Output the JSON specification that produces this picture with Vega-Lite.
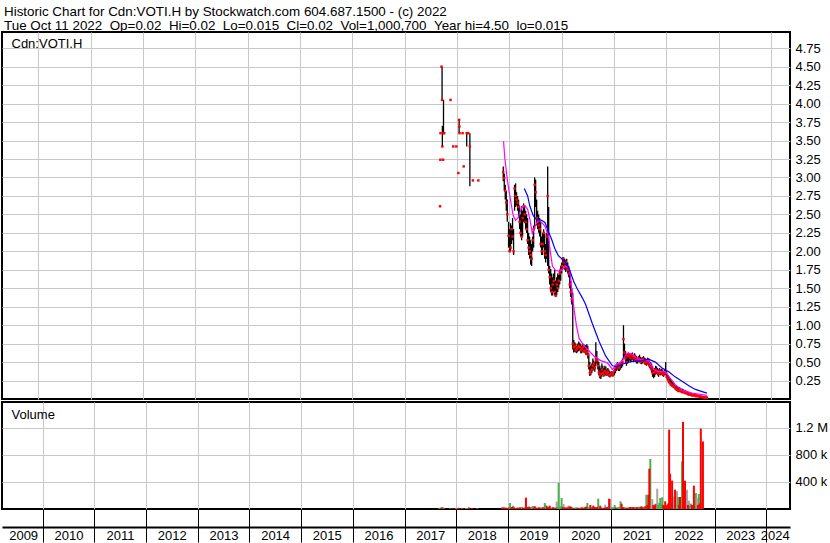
{
  "$schema": "https://vega.github.io/schema/vega-lite/v6.json",
  "background": "white",
  "padding": {"left": 1, "top": 4, "right": 0, "bottom": 0},
  "spacing": 3,
  "bounds": "flush",
  "title": {
    "text": ["Historic Chart for Cdn:VOTI.H by Stockwatch.com 604.687.1500 - (c) 2022", "Tue Oct 11 2022 \u00a0Op=0.02 \u00a0Hi=0.02 \u00a0Lo=0.015 \u00a0Cl=0.02 \u00a0Vol=1,000,700 \u00a0Year hi=4.50 \u00a0lo=0.015"],
    "anchor": "start", "frame": "group", "font": "Liberation Sans", "fontSize": 13.4, "fontWeight": "normal",
    "color": "black", "lineHeight": 14, "dx": 2, "offset": -1
  },
  "config": {
    "view": {"stroke": "black", "strokeWidth": 2},
    "font": "Liberation Sans",
    "axis": {"labelFont": "Liberation Sans", "labelFontSize": 13, "labelColor": "black", "gridColor": "#c8c8c8", "gridWidth": 1, "gridOpacity": 1, "title": null}
  },
  "datasets": {
    "px": [
      {"d":"2017-09-05","h":2.61,"l":2.61,"c":2.61,"v":12000,"k":"up"},
      {"d":"2017-09-07","h":3.24,"l":3.24,"c":3.24,"v":18000,"k":"up"},
      {"d":"2017-09-08","h":3.6,"l":3.6,"c":3.6,"v":15000,"k":"up"},
      {"d":"2017-09-15","h":4.5,"l":4.5,"c":4.5,"v":10000,"k":"up"},
      {"d":"2017-09-19","h":4.5,"l":4.05,"c":4.05,"v":22000,"k":"down"},
      {"d":"2017-09-21","h":3.7,"l":3.42,"c":3.42,"v":20000,"k":"down"},
      {"d":"2017-09-26","h":3.24,"l":3.24,"c":3.24,"v":15000,"k":"down"},
      {"d":"2017-09-29","h":4.05,"l":3.6,"c":3.6,"v":25000,"k":"up"},
      {"d":"2017-10-04","h":3.6,"l":3.6,"c":3.6,"v":12000,"k":"flat"},
      {"d":"2017-11-17","h":4.05,"l":4.05,"c":4.05,"v":10000,"k":"up"},
      {"d":"2017-12-06","h":3.42,"l":3.42,"c":3.42,"v":12000,"k":"down"},
      {"d":"2017-12-27","h":3.42,"l":3.42,"c":3.42,"v":10000,"k":"flat"},
      {"d":"2018-01-11","h":3.06,"l":3.06,"c":3.06,"v":14000,"k":"down"},
      {"d":"2018-01-16","h":3.78,"l":3.6,"c":3.78,"v":20000,"k":"up"},
      {"d":"2018-01-18","h":3.69,"l":3.69,"c":3.69,"v":12000,"k":"down"},
      {"d":"2018-01-19","h":3.6,"l":3.6,"c":3.6,"v":10000,"k":"down"},
      {"d":"2018-02-09","h":3.6,"l":3.6,"c":3.6,"v":10000,"k":"flat"},
      {"d":"2018-02-17","h":3.15,"l":3.15,"c":3.15,"v":12000,"k":"down"},
      {"d":"2018-03-10","h":3.6,"l":3.42,"c":3.6,"v":15000,"k":"up"},
      {"d":"2018-03-20","h":3.6,"l":3.6,"c":3.6,"v":10000,"k":"flat"},
      {"d":"2018-04-01","h":3.6,"l":2.88,"c":3.42,"v":22000,"k":"down"},
      {"d":"2018-04-22","h":2.96,"l":2.96,"c":2.96,"v":12000,"k":"down"},
      {"d":"2018-05-30","h":2.96,"l":2.96,"c":2.96,"v":10000,"k":"flat"},
      {"d":"2018-11-20","h":3.15,"l":2.95,"c":3.07,"v":22000,"k":"down"},
      {"d":"2018-11-27","h":3.05,"l":2.82,"c":2.99,"v":18000,"k":"down"},
      {"d":"2018-12-04","h":2.9,"l":2.7,"c":2.82,"v":25000,"k":"down"},
      {"d":"2018-12-11","h":2.82,"l":2.55,"c":2.66,"v":15000,"k":"down"},
      {"d":"2018-12-18","h":2.7,"l":2.4,"c":2.5,"v":20000,"k":"down"},
      {"d":"2018-12-27","h":2.4,"l":2.05,"c":2.21,"v":15000,"k":"down"},
      {"d":"2019-01-03","h":2.3,"l":2.0,"c":2.0,"v":18000,"k":"down"},
      {"d":"2019-01-10","h":2.38,"l":2.0,"c":2.05,"v":25000,"k":"up"},
      {"d":"2019-01-17","h":2.35,"l":2.1,"c":2.3,"v":89000,"k":"up"},
      {"d":"2019-01-24","h":2.45,"l":2.15,"c":2.2,"v":20000,"k":"down"},
      {"d":"2019-01-31","h":2.3,"l":1.95,"c":2.0,"v":30000,"k":"down"},
      {"d":"2019-02-07","h":2.9,"l":2.55,"c":2.85,"v":49000,"k":"up"},
      {"d":"2019-02-14","h":2.92,"l":2.6,"c":2.75,"v":25000,"k":"down"},
      {"d":"2019-02-21","h":2.8,"l":2.62,"c":2.7,"v":15000,"k":"flat"},
      {"d":"2019-02-28","h":2.75,"l":2.55,"c":2.66,"v":12000,"k":"down"},
      {"d":"2019-03-07","h":2.7,"l":2.45,"c":2.6,"v":18000,"k":"down"},
      {"d":"2019-03-14","h":2.62,"l":2.3,"c":2.4,"v":20000,"k":"down"},
      {"d":"2019-03-21","h":2.5,"l":2.2,"c":2.25,"v":15000,"k":"down"},
      {"d":"2019-03-28","h":2.61,"l":2.15,"c":2.2,"v":25000,"k":"down"},
      {"d":"2019-04-04","h":2.55,"l":2.2,"c":2.45,"v":20000,"k":"up"},
      {"d":"2019-04-11","h":2.65,"l":2.4,"c":2.61,"v":30000,"k":"up"},
      {"d":"2019-04-18","h":2.62,"l":2.38,"c":2.5,"v":15000,"k":"down"},
      {"d":"2019-04-25","h":2.55,"l":2.3,"c":2.4,"v":20000,"k":"down"},
      {"d":"2019-05-02","h":2.5,"l":2.25,"c":2.3,"v":18000,"k":"down"},
      {"d":"2019-05-09","h":2.45,"l":2.1,"c":2.15,"v":168000,"k":"down"},
      {"d":"2019-05-16","h":2.25,"l":1.95,"c":2.05,"v":30000,"k":"down"},
      {"d":"2019-05-23","h":2.2,"l":1.9,"c":2.0,"v":25000,"k":"down"},
      {"d":"2019-05-30","h":2.15,"l":1.82,"c":1.95,"v":35000,"k":"down"},
      {"d":"2019-06-06","h":2.1,"l":1.8,"c":1.9,"v":20000,"k":"down"},
      {"d":"2019-06-13","h":2.2,"l":2.0,"c":2.15,"v":25000,"k":"up"},
      {"d":"2019-06-20","h":2.35,"l":2.05,"c":2.3,"v":30000,"k":"up"},
      {"d":"2019-06-27","h":3.0,"l":2.3,"c":2.9,"v":45000,"k":"up"},
      {"d":"2019-07-04","h":2.97,"l":2.6,"c":2.8,"v":20000,"k":"down"},
      {"d":"2019-07-11","h":2.7,"l":2.35,"c":2.45,"v":40000,"k":"down"},
      {"d":"2019-07-18","h":2.55,"l":2.3,"c":2.4,"v":15000,"k":"down"},
      {"d":"2019-07-25","h":2.5,"l":2.25,"c":2.35,"v":20000,"k":"down"},
      {"d":"2019-08-01","h":2.45,"l":2.2,"c":2.3,"v":15000,"k":"flat"},
      {"d":"2019-08-08","h":2.4,"l":2.05,"c":2.1,"v":25000,"k":"down"},
      {"d":"2019-08-15","h":2.2,"l":1.95,"c":2.0,"v":20000,"k":"down"},
      {"d":"2019-08-22","h":2.25,"l":1.95,"c":2.1,"v":18000,"k":"up"},
      {"d":"2019-08-29","h":2.3,"l":2.05,"c":2.25,"v":22000,"k":"up"},
      {"d":"2019-09-05","h":2.25,"l":1.9,"c":2.0,"v":25000,"k":"down"},
      {"d":"2019-09-12","h":2.1,"l":1.85,"c":1.95,"v":20000,"k":"down"},
      {"d":"2019-09-19","h":2.25,"l":1.9,"c":2.2,"v":89000,"k":"up"},
      {"d":"2019-09-26","h":3.15,"l":1.8,"c":2.75,"v":60000,"k":"up"},
      {"d":"2019-10-03","h":2.6,"l":1.7,"c":1.75,"v":40000,"k":"down"},
      {"d":"2019-10-10","h":1.8,"l":1.55,"c":1.65,"v":25000,"k":"down"},
      {"d":"2019-10-17","h":1.76,"l":1.45,"c":1.5,"v":30000,"k":"down"},
      {"d":"2019-10-24","h":1.7,"l":1.4,"c":1.45,"v":49000,"k":"down"},
      {"d":"2019-10-31","h":1.65,"l":1.4,"c":1.55,"v":20000,"k":"up"},
      {"d":"2019-11-07","h":1.7,"l":1.45,"c":1.6,"v":18000,"k":"up"},
      {"d":"2019-11-14","h":1.75,"l":1.4,"c":1.45,"v":25000,"k":"down"},
      {"d":"2019-11-21","h":1.6,"l":1.38,"c":1.4,"v":22000,"k":"down"},
      {"d":"2019-11-28","h":1.65,"l":1.4,"c":1.55,"v":15000,"k":"up"},
      {"d":"2019-12-05","h":1.7,"l":1.45,"c":1.5,"v":20000,"k":"down"},
      {"d":"2019-12-12","h":1.68,"l":1.5,"c":1.6,"v":109000,"k":"flat"},
      {"d":"2019-12-19","h":1.75,"l":1.55,"c":1.7,"v":30000,"k":"up"},
      {"d":"2019-12-26","h":1.8,"l":1.6,"c":1.75,"v":390000,"k":"up"},
      {"d":"2020-01-02","h":1.85,"l":1.7,"c":1.8,"v":35000,"k":"up"},
      {"d":"2020-01-09","h":1.92,"l":1.75,"c":1.9,"v":40000,"k":"up"},
      {"d":"2020-01-16","h":1.92,"l":1.8,"c":1.85,"v":163000,"k":"up"},
      {"d":"2020-01-23","h":1.9,"l":1.75,"c":1.8,"v":30000,"k":"down"},
      {"d":"2020-01-30","h":1.88,"l":1.72,"c":1.85,"v":74000,"k":"flat"},
      {"d":"2020-02-06","h":1.9,"l":1.75,"c":1.78,"v":25000,"k":"down"},
      {"d":"2020-02-13","h":1.85,"l":1.7,"c":1.75,"v":20000,"k":"down"},
      {"d":"2020-02-20","h":1.8,"l":1.65,"c":1.7,"v":18000,"k":"down"},
      {"d":"2020-02-27","h":1.75,"l":1.5,"c":1.55,"v":25000,"k":"down"},
      {"d":"2020-03-05","h":1.6,"l":1.38,"c":1.45,"v":49000,"k":"up"},
      {"d":"2020-03-12","h":1.5,"l":1.28,"c":1.35,"v":30000,"k":"down"},
      {"d":"2020-03-19","h":1.44,"l":0.67,"c":0.75,"v":40000,"k":"down"},
      {"d":"2020-03-26","h":0.8,"l":0.63,"c":0.7,"v":25000,"k":"down"},
      {"d":"2020-04-02","h":0.77,"l":0.64,"c":0.72,"v":20000,"k":"up"},
      {"d":"2020-04-09","h":0.75,"l":0.63,"c":0.66,"v":15000,"k":"down"},
      {"d":"2020-04-16","h":0.72,"l":0.62,"c":0.68,"v":18000,"k":"up"},
      {"d":"2020-04-23","h":0.75,"l":0.64,"c":0.7,"v":20000,"k":"up"},
      {"d":"2020-04-30","h":0.78,"l":0.65,"c":0.72,"v":25000,"k":"up"},
      {"d":"2020-05-07","h":0.76,"l":0.66,"c":0.7,"v":15000,"k":"down"},
      {"d":"2020-05-14","h":0.74,"l":0.62,"c":0.66,"v":20000,"k":"down"},
      {"d":"2020-05-21","h":0.72,"l":0.62,"c":0.68,"v":15000,"k":"up"},
      {"d":"2020-05-28","h":0.75,"l":0.64,"c":0.7,"v":18000,"k":"up"},
      {"d":"2020-06-04","h":0.74,"l":0.63,"c":0.65,"v":20000,"k":"down"},
      {"d":"2020-06-11","h":0.72,"l":0.62,"c":0.64,"v":25000,"k":"down"},
      {"d":"2020-06-18","h":0.73,"l":0.6,"c":0.66,"v":15000,"k":"up"},
      {"d":"2020-06-25","h":0.74,"l":0.6,"c":0.63,"v":20000,"k":"down"},
      {"d":"2020-07-02","h":0.72,"l":0.55,"c":0.6,"v":30000,"k":"down"},
      {"d":"2020-07-09","h":0.62,"l":0.4,"c":0.45,"v":35000,"k":"down"},
      {"d":"2020-07-16","h":0.5,"l":0.31,"c":0.35,"v":89000,"k":"up"},
      {"d":"2020-07-23","h":0.45,"l":0.32,"c":0.38,"v":25000,"k":"up"},
      {"d":"2020-07-30","h":0.48,"l":0.35,"c":0.4,"v":20000,"k":"up"},
      {"d":"2020-08-06","h":0.55,"l":0.38,"c":0.45,"v":59000,"k":"down"},
      {"d":"2020-08-13","h":0.52,"l":0.4,"c":0.48,"v":20000,"k":"up"},
      {"d":"2020-08-20","h":0.5,"l":0.37,"c":0.42,"v":25000,"k":"down"},
      {"d":"2020-08-27","h":0.77,"l":0.45,"c":0.55,"v":49000,"k":"down"},
      {"d":"2020-09-03","h":0.65,"l":0.48,"c":0.52,"v":30000,"k":"down"},
      {"d":"2020-09-10","h":0.55,"l":0.4,"c":0.45,"v":25000,"k":"down"},
      {"d":"2020-09-17","h":0.5,"l":0.32,"c":0.36,"v":20000,"k":"down"},
      {"d":"2020-09-24","h":0.45,"l":0.28,"c":0.32,"v":30000,"k":"down"},
      {"d":"2020-10-01","h":0.42,"l":0.27,"c":0.34,"v":153000,"k":"up"},
      {"d":"2020-10-08","h":0.48,"l":0.3,"c":0.4,"v":25000,"k":"up"},
      {"d":"2020-10-15","h":0.45,"l":0.32,"c":0.35,"v":49000,"k":"down"},
      {"d":"2020-10-22","h":0.42,"l":0.3,"c":0.33,"v":20000,"k":"down"},
      {"d":"2020-10-29","h":0.45,"l":0.31,"c":0.38,"v":18000,"k":"up"},
      {"d":"2020-11-05","h":0.44,"l":0.33,"c":0.36,"v":15000,"k":"down"},
      {"d":"2020-11-12","h":0.4,"l":0.31,"c":0.34,"v":20000,"k":"down"},
      {"d":"2020-11-19","h":0.42,"l":0.32,"c":0.37,"v":64000,"k":"flat"},
      {"d":"2020-11-26","h":0.4,"l":0.3,"c":0.33,"v":25000,"k":"down"},
      {"d":"2020-12-03","h":0.38,"l":0.29,"c":0.32,"v":30000,"k":"down"},
      {"d":"2020-12-10","h":0.36,"l":0.3,"c":0.34,"v":20000,"k":"up"},
      {"d":"2020-12-17","h":0.38,"l":0.31,"c":0.35,"v":153000,"k":"down"},
      {"d":"2020-12-24","h":0.37,"l":0.3,"c":0.33,"v":148000,"k":"flat"},
      {"d":"2021-01-04","h":0.4,"l":0.32,"c":0.38,"v":30000,"k":"up"},
      {"d":"2021-01-11","h":0.45,"l":0.35,"c":0.42,"v":25000,"k":"up"},
      {"d":"2021-01-18","h":0.48,"l":0.38,"c":0.45,"v":20000,"k":"up"},
      {"d":"2021-01-25","h":0.5,"l":0.4,"c":0.46,"v":59000,"k":"up"},
      {"d":"2021-02-01","h":0.47,"l":0.38,"c":0.42,"v":20000,"k":"down"},
      {"d":"2021-02-08","h":0.46,"l":0.38,"c":0.43,"v":18000,"k":"up"},
      {"d":"2021-02-15","h":0.5,"l":0.4,"c":0.47,"v":25000,"k":"up"},
      {"d":"2021-02-22","h":0.52,"l":0.42,"c":0.48,"v":30000,"k":"up"},
      {"d":"2021-03-01","h":0.55,"l":0.44,"c":0.5,"v":35000,"k":"up"},
      {"d":"2021-03-08","h":1.0,"l":0.54,"c":0.81,"v":114000,"k":"up"},
      {"d":"2021-03-15","h":0.75,"l":0.55,"c":0.63,"v":79000,"k":"down"},
      {"d":"2021-03-22","h":0.65,"l":0.48,"c":0.55,"v":30000,"k":"down"},
      {"d":"2021-03-29","h":0.6,"l":0.45,"c":0.5,"v":25000,"k":"down"},
      {"d":"2021-04-05","h":0.62,"l":0.48,"c":0.58,"v":20000,"k":"up"},
      {"d":"2021-04-12","h":0.63,"l":0.5,"c":0.6,"v":25000,"k":"up"},
      {"d":"2021-04-19","h":0.62,"l":0.52,"c":0.58,"v":15000,"k":"down"},
      {"d":"2021-04-26","h":0.6,"l":0.5,"c":0.55,"v":20000,"k":"down"},
      {"d":"2021-05-03","h":0.62,"l":0.52,"c":0.6,"v":18000,"k":"up"},
      {"d":"2021-05-10","h":0.63,"l":0.53,"c":0.58,"v":25000,"k":"down"},
      {"d":"2021-05-17","h":0.6,"l":0.5,"c":0.55,"v":30000,"k":"down"},
      {"d":"2021-05-24","h":0.62,"l":0.52,"c":0.58,"v":20000,"k":"up"},
      {"d":"2021-05-31","h":0.6,"l":0.5,"c":0.53,"v":25000,"k":"down"},
      {"d":"2021-06-07","h":0.58,"l":0.48,"c":0.52,"v":30000,"k":"down"},
      {"d":"2021-06-14","h":0.56,"l":0.48,"c":0.53,"v":20000,"k":"up"},
      {"d":"2021-06-21","h":0.58,"l":0.5,"c":0.55,"v":25000,"k":"up"},
      {"d":"2021-06-28","h":0.6,"l":0.5,"c":0.52,"v":30000,"k":"down"},
      {"d":"2021-07-05","h":0.57,"l":0.48,"c":0.5,"v":20000,"k":"down"},
      {"d":"2021-07-12","h":0.55,"l":0.47,"c":0.52,"v":35000,"k":"up"},
      {"d":"2021-07-19","h":0.57,"l":0.48,"c":0.55,"v":25000,"k":"up"},
      {"d":"2021-07-26","h":0.58,"l":0.5,"c":0.53,"v":30000,"k":"down"},
      {"d":"2021-08-02","h":0.56,"l":0.47,"c":0.5,"v":40000,"k":"down"},
      {"d":"2021-08-09","h":0.55,"l":0.46,"c":0.48,"v":25000,"k":"down"},
      {"d":"2021-08-16","h":0.54,"l":0.45,"c":0.5,"v":30000,"k":"up"},
      {"d":"2021-08-23","h":0.56,"l":0.47,"c":0.52,"v":35000,"k":"up"},
      {"d":"2021-08-30","h":0.55,"l":0.45,"c":0.48,"v":40000,"k":"down"},
      {"d":"2021-09-06","h":0.52,"l":0.42,"c":0.45,"v":212000,"k":"up"},
      {"d":"2021-09-13","h":0.5,"l":0.4,"c":0.43,"v":60000,"k":"down"},
      {"d":"2021-09-20","h":0.48,"l":0.36,"c":0.4,"v":212000,"k":"down"},
      {"d":"2021-09-27","h":0.45,"l":0.3,"c":0.35,"v":597000,"k":"down"},
      {"d":"2021-10-04","h":0.4,"l":0.28,"c":0.36,"v":741000,"k":"up"},
      {"d":"2021-10-11","h":0.42,"l":0.3,"c":0.36,"v":50000,"k":"flat"},
      {"d":"2021-10-18","h":0.45,"l":0.33,"c":0.4,"v":148000,"k":"flat"},
      {"d":"2021-10-25","h":0.44,"l":0.34,"c":0.38,"v":60000,"k":"down"},
      {"d":"2021-11-01","h":0.42,"l":0.32,"c":0.35,"v":45000,"k":"down"},
      {"d":"2021-11-08","h":0.4,"l":0.3,"c":0.34,"v":70000,"k":"down"},
      {"d":"2021-11-15","h":0.42,"l":0.33,"c":0.38,"v":80000,"k":"up"},
      {"d":"2021-11-22","h":0.4,"l":0.32,"c":0.35,"v":301000,"k":"flat"},
      {"d":"2021-11-29","h":0.41,"l":0.33,"c":0.37,"v":60000,"k":"up"},
      {"d":"2021-12-06","h":0.4,"l":0.31,"c":0.34,"v":90000,"k":"up"},
      {"d":"2021-12-13","h":0.38,"l":0.3,"c":0.33,"v":163000,"k":"up"},
      {"d":"2021-12-20","h":0.4,"l":0.33,"c":0.36,"v":70000,"k":"up"},
      {"d":"2021-12-27","h":0.5,"l":0.32,"c":0.35,"v":173000,"k":"up"},
      {"d":"2022-01-03","h":0.38,"l":0.28,"c":0.3,"v":60000,"k":"down"},
      {"d":"2022-01-10","h":0.33,"l":0.25,"c":0.27,"v":50000,"k":"down"},
      {"d":"2022-01-17","h":0.31,"l":0.22,"c":0.24,"v":114000,"k":"down"},
      {"d":"2022-01-24","h":0.28,"l":0.2,"c":0.22,"v":40000,"k":"down"},
      {"d":"2022-01-31","h":0.27,"l":0.18,"c":0.2,"v":60000,"k":"down"},
      {"d":"2022-02-07","h":0.25,"l":0.17,"c":0.19,"v":80000,"k":"down"},
      {"d":"2022-02-14","h":0.24,"l":0.16,"c":0.18,"v":1175000,"k":"down"},
      {"d":"2022-02-21","h":0.22,"l":0.15,"c":0.17,"v":523000,"k":"down"},
      {"d":"2022-02-28","h":0.2,"l":0.14,"c":0.16,"v":100000,"k":"up"},
      {"d":"2022-03-07","h":0.19,"l":0.12,"c":0.14,"v":420000,"k":"down"},
      {"d":"2022-03-14","h":0.18,"l":0.11,"c":0.13,"v":60000,"k":"up"},
      {"d":"2022-03-21","h":0.17,"l":0.1,"c":0.12,"v":188000,"k":"flat"},
      {"d":"2022-03-28","h":0.16,"l":0.09,"c":0.11,"v":286000,"k":"down"},
      {"d":"2022-04-04","h":0.16,"l":0.1,"c":0.12,"v":80000,"k":"up"},
      {"d":"2022-04-11","h":0.15,"l":0.09,"c":0.11,"v":262000,"k":"flat"},
      {"d":"2022-04-18","h":0.14,"l":0.08,"c":0.1,"v":178000,"k":"up"},
      {"d":"2022-04-25","h":0.14,"l":0.08,"c":0.09,"v":60000,"k":"down"},
      {"d":"2022-05-02","h":0.13,"l":0.08,"c":0.1,"v":178000,"k":"down"},
      {"d":"2022-05-09","h":0.12,"l":0.07,"c":0.09,"v":90000,"k":"up"},
      {"d":"2022-05-16","h":0.12,"l":0.07,"c":0.08,"v":706000,"k":"up"},
      {"d":"2022-05-23","h":0.11,"l":0.06,"c":0.08,"v":1290000,"k":"down"},
      {"d":"2022-05-30","h":0.1,"l":0.06,"c":0.07,"v":346000,"k":"flat"},
      {"d":"2022-06-06","h":0.09,"l":0.05,"c":0.06,"v":420000,"k":"down"},
      {"d":"2022-06-13","h":0.09,"l":0.05,"c":0.07,"v":100000,"k":"up"},
      {"d":"2022-06-20","h":0.08,"l":0.05,"c":0.06,"v":286000,"k":"flat"},
      {"d":"2022-06-27","h":0.08,"l":0.04,"c":0.05,"v":60000,"k":"down"},
      {"d":"2022-07-04","h":0.07,"l":0.04,"c":0.05,"v":123000,"k":"flat"},
      {"d":"2022-07-11","h":0.07,"l":0.04,"c":0.05,"v":50000,"k":"up"},
      {"d":"2022-07-18","h":0.06,"l":0.04,"c":0.05,"v":79000,"k":"up"},
      {"d":"2022-07-25","h":0.06,"l":0.03,"c":0.04,"v":60000,"k":"down"},
      {"d":"2022-08-01","h":0.06,"l":0.03,"c":0.04,"v":40000,"k":"down"},
      {"d":"2022-08-08","h":0.05,"l":0.03,"c":0.04,"v":346000,"k":"down"},
      {"d":"2022-08-15","h":0.05,"l":0.03,"c":0.04,"v":80000,"k":"flat"},
      {"d":"2022-08-22","h":0.05,"l":0.025,"c":0.03,"v":237000,"k":"up"},
      {"d":"2022-08-29","h":0.04,"l":0.025,"c":0.03,"v":163000,"k":"flat"},
      {"d":"2022-09-05","h":0.04,"l":0.02,"c":0.03,"v":60000,"k":"down"},
      {"d":"2022-09-12","h":0.04,"l":0.02,"c":0.025,"v":222000,"k":"up"},
      {"d":"2022-09-19","h":0.035,"l":0.02,"c":0.025,"v":80000,"k":"down"},
      {"d":"2022-09-26","h":0.03,"l":0.015,"c":0.02,"v":1190000,"k":"down"},
      {"d":"2022-10-03","h":0.03,"l":0.015,"c":0.02,"v":100000,"k":"flat"},
      {"d":"2022-10-11","h":0.02,"l":0.015,"c":0.02,"v":1000700,"k":"down"}
    ],
    "ms": [
      {"d":"2018-11-22","m":3.49},{"d":"2018-12-02","m":3.24},{"d":"2018-12-21","m":2.93},
      {"d":"2019-01-05","m":2.75},{"d":"2019-01-17","m":2.61},{"d":"2019-01-29","m":2.48},
      {"d":"2019-02-14","m":2.42},{"d":"2019-03-05","m":2.46},{"d":"2019-03-28","m":2.59},
      {"d":"2019-04-20","m":2.62},{"d":"2019-05-09","m":2.57},{"d":"2019-05-25","m":2.43},
      {"d":"2019-06-11","m":2.24},{"d":"2019-06-29","m":2.34},{"d":"2019-07-23","m":2.42},
      {"d":"2019-08-15","m":2.39},{"d":"2019-09-07","m":2.34},{"d":"2019-10-01","m":2.21},
      {"d":"2019-10-12","m":2.03},{"d":"2019-10-29","m":1.8},{"d":"2019-11-21","m":1.74},
      {"d":"2019-12-21","m":1.73},{"d":"2020-01-29","m":1.8},{"d":"2020-02-22","m":1.78},
      {"d":"2020-03-04","m":1.65},{"d":"2020-03-16","m":1.4},{"d":"2020-03-28","m":1.22},
      {"d":"2020-04-13","m":1.0},{"d":"2020-05-02","m":0.82},{"d":"2020-06-06","m":0.72},
      {"d":"2020-07-11","m":0.65},{"d":"2020-08-15","m":0.58},{"d":"2020-09-30","m":0.52},
      {"d":"2020-11-16","m":0.49},{"d":"2020-12-21","m":0.4},{"d":"2021-01-21","m":0.47},
      {"d":"2021-02-25","m":0.51},{"d":"2021-04-01","m":0.62},{"d":"2021-05-06","m":0.61},
      {"d":"2021-06-10","m":0.55},{"d":"2021-07-15","m":0.53},{"d":"2021-08-31","m":0.52},
      {"d":"2021-10-05","m":0.4},{"d":"2021-11-09","m":0.37},{"d":"2021-12-25","m":0.37},
      {"d":"2022-01-29","m":0.28},{"d":"2022-03-05","m":0.19},{"d":"2022-04-21","m":0.12},
      {"d":"2022-06-30","m":0.08},{"d":"2022-10-11","m":0.05}
    ],
    "ml": [
      {"d":"2019-04-16","m":2.85},{"d":"2019-05-09","m":2.75},{"d":"2019-05-25","m":2.61},
      {"d":"2019-06-18","m":2.48},{"d":"2019-07-11","m":2.43},{"d":"2019-08-15","m":2.42},
      {"d":"2019-09-07","m":2.39},{"d":"2019-10-01","m":2.27},{"d":"2019-10-24","m":2.16},
      {"d":"2019-11-16","m":2.03},{"d":"2019-12-10","m":1.94},{"d":"2020-01-06","m":1.89},
      {"d":"2020-02-10","m":1.82},{"d":"2020-03-04","m":1.71},{"d":"2020-03-28","m":1.58},
      {"d":"2020-04-20","m":1.49},{"d":"2020-05-25","m":1.37},{"d":"2020-06-17","m":1.28},
      {"d":"2020-08-03","m":1.02},{"d":"2020-09-19","m":0.78},{"d":"2020-11-04","m":0.58},
      {"d":"2020-12-21","m":0.45},{"d":"2021-01-21","m":0.44},{"d":"2021-02-25","m":0.47},
      {"d":"2021-05-06","m":0.51},{"d":"2021-07-15","m":0.52},{"d":"2021-08-31","m":0.54},
      {"d":"2021-10-16","m":0.5},{"d":"2021-12-02","m":0.42},{"d":"2022-01-18","m":0.37},
      {"d":"2022-03-03","m":0.3},{"d":"2022-04-21","m":0.24},{"d":"2022-06-07","m":0.18},
      {"d":"2022-07-23","m":0.13},{"d":"2022-09-08","m":0.1},{"d":"2022-10-11","m":0.08}
    ]
  },
  "vconcat": [
    {
      "width": 788,
      "height": 367,
      "resolve": {"axis": {"y": "independent"}},
      "layer": [
        {
          "data": {"name": "px"},
          "mark": {"type": "rule", "color": "black", "strokeWidth": 1.3},
          "encoding": {
            "x": {"field": "d", "type": "temporal",
              "scale": {"domain": [{"year": 2009, "month": 4, "date": 23}, {"year": 2024, "month": 5, "date": 13}]},
              "axis": {"values": [{"year":2010,"month":1,"date":1},{"year":2011,"month":1,"date":1},{"year":2012,"month":1,"date":1},{"year":2013,"month":1,"date":1},{"year":2014,"month":1,"date":1},{"year":2015,"month":1,"date":1},{"year":2016,"month":1,"date":1},{"year":2017,"month":1,"date":1},{"year":2018,"month":1,"date":1},{"year":2019,"month":1,"date":1},{"year":2020,"month":1,"date":1},{"year":2021,"month":1,"date":1},{"year":2022,"month":1,"date":1},{"year":2023,"month":1,"date":1},{"year":2024,"month":1,"date":1}],
                "grid": true, "labels": false, "ticks": false, "domain": false, "title": null}},
            "y": {"field": "l", "type": "quantitative",
              "scale": {"domain": [0, 4.97], "nice": false, "zero": false},
              "axis": {"orient": "right", "values": [0.25,0.5,0.75,1,1.25,1.5,1.75,2,2.25,2.5,2.75,3,3.25,3.5,3.75,4,4.25,4.5,4.75],
                "format": ".2f", "grid": true, "ticks": false, "domain": false, "labelPadding": 5, "labelOverlap": false, "labelBaseline": "middle", "title": null}},
            "y2": {"field": "h"}
          }
        },
        {
          "data": {"name": "px"},
          "mark": {"type": "square", "color": "#ff0000", "size": 6, "opacity": 1},
          "encoding": {
            "x": {"field": "d", "type": "temporal"},
            "y": {"field": "c", "type": "quantitative",
              "axis": {"orient": "left", "title": "Cdn:VOTI.H", "labels": false, "ticks": false, "domain": false, "grid": false,
                "titleAngle": 0, "titleAlign": "left", "titleBaseline": "alphabetic", "titleX": 9, "titleY": 15,
                "titleFont": "Liberation Sans", "titleFontSize": 13, "titleFontWeight": "normal", "titleColor": "black"}}
          }
        },
        {
          "data": {"name": "ms"},
          "mark": {"type": "line", "color": "#ff00ff", "strokeWidth": 1.2},
          "encoding": {
            "x": {"field": "d", "type": "temporal"},
            "y": {"field": "m", "type": "quantitative", "axis": null}
          }
        },
        {
          "data": {"name": "ml"},
          "mark": {"type": "line", "color": "#0000ff", "strokeWidth": 1.2},
          "encoding": {
            "x": {"field": "d", "type": "temporal"},
            "y": {"field": "m", "type": "quantitative", "axis": null}
          }
        }
      ]
    },
    {
      "width": 788,
      "height": 107,
      "data": {"name": "px"},
      "resolve": {"axis": {"x": "independent", "y": "independent"}},
      "layer": [
        {
          "transform": [{"filter": "datum.k != 'down'"}],
          "mark": {"type": "bar", "size": 2},
          "encoding": {
            "x": {"field": "d", "type": "temporal",
              "scale": {"domain": [{"year": 2009, "month": 4, "date": 23}, {"year": 2024, "month": 5, "date": 13}]},
              "axis": {"orient": "bottom", "values": [{"year":2010,"month":1,"date":1},{"year":2011,"month":1,"date":1},{"year":2012,"month":1,"date":1},{"year":2013,"month":1,"date":1},{"year":2014,"month":1,"date":1},{"year":2015,"month":1,"date":1},{"year":2016,"month":1,"date":1},{"year":2017,"month":1,"date":1},{"year":2018,"month":1,"date":1},{"year":2019,"month":1,"date":1},{"year":2020,"month":1,"date":1},{"year":2021,"month":1,"date":1},{"year":2022,"month":1,"date":1},{"year":2023,"month":1,"date":1},{"year":2024,"month":1,"date":1}],
                "grid": true, "labels": false, "ticks": true, "tickSize": 33, "tickColor": "black", "tickWidth": 1, "domain": false, "title": null}},
            "y": {"field": "v", "type": "quantitative",
              "scale": {"domain": [0, 1585000], "nice": false},
              "axis": {"orient": "right", "values": [400000, 800000, 1200000],
                "labelExpr": "datum.value >= 1000000 ? format(datum.value / 1000000, '.1f') + ' M' : format(datum.value / 1000, 'd') + ' k'",
                "grid": true, "ticks": false, "domain": false, "labelPadding": 5, "labelBaseline": "middle", "title": null}},
            "color": {"field": "k", "type": "nominal", "scale": {"domain": ["up", "down", "flat"], "range": ["#4cb04c", "#ff0000", "#a4a4a4"]}, "legend": null}
          }
        },
        {
          "transform": [{"filter": "datum.k == 'down'"}],
          "mark": {"type": "bar", "size": 2},
          "encoding": {
            "x": {"field": "d", "type": "temporal",
              "axis": {"orient": "bottom", "offset": 18,
                "values": [{"year":2009,"month":8,"date":15},{"year":2010,"month":7,"date":1},{"year":2011,"month":7,"date":1},{"year":2012,"month":7,"date":1},{"year":2013,"month":7,"date":1},{"year":2014,"month":7,"date":1},{"year":2015,"month":7,"date":1},{"year":2016,"month":7,"date":1},{"year":2017,"month":7,"date":1},{"year":2018,"month":7,"date":1},{"year":2019,"month":7,"date":1},{"year":2020,"month":7,"date":1},{"year":2021,"month":7,"date":1},{"year":2022,"month":7,"date":1},{"year":2023,"month":7,"date":1},{"year":2024,"month":3,"date":1}],
                "labelExpr": "timeFormat(datum.value, '%Y')", "grid": false, "ticks": false, "domain": true, "domainColor": "black", "domainWidth": 2,
                "labelPadding": 2, "labelOverlap": false, "labelFlush": false, "labelBound": false, "title": null}},
            "y": {"field": "v", "type": "quantitative",
              "axis": {"orient": "left", "title": "Volume", "labels": false, "ticks": false, "domain": false, "grid": false,
                "titleAngle": 0, "titleAlign": "left", "titleBaseline": "alphabetic", "titleX": 9, "titleY": 16,
                "titleFont": "Liberation Sans", "titleFontSize": 13, "titleFontWeight": "normal", "titleColor": "black"}},
            "color": {"field": "k", "type": "nominal", "legend": null}
          }
        }
      ]
    }
  ]
}
